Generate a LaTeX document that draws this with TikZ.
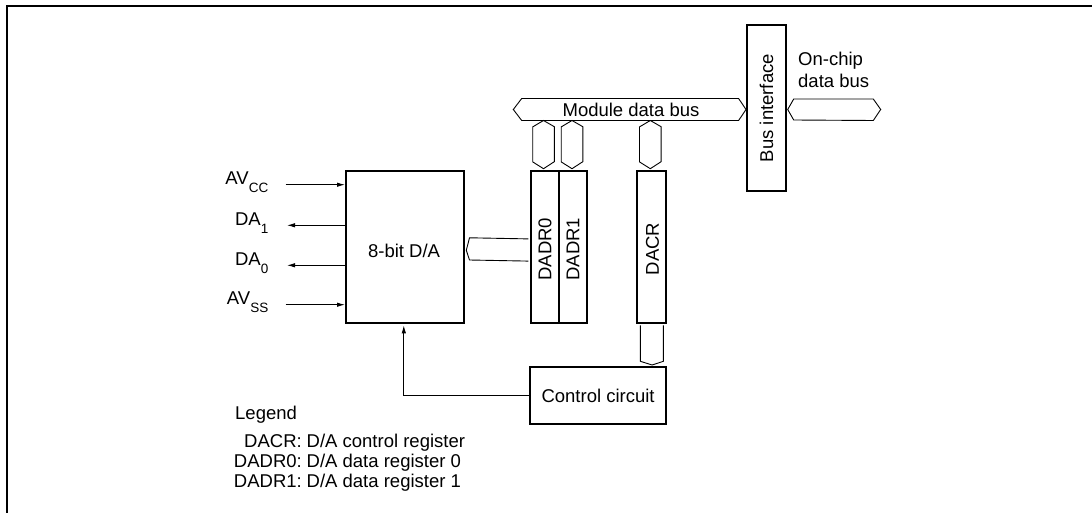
\documentclass[tikz,border=0pt]{standalone}
\usepackage{fontspec}
\setmainfont{Liberation Sans}
\usetikzlibrary{arrows.meta,calc}
\newcommand{\lsub}[1]{\raisebox{-0.42em}{\fontsize{13.5}{14}\selectfont #1}}
\begin{document}
\begin{tikzpicture}[x=1pt,y=-1pt,
  font=\fontsize{18.5}{22}\selectfont,
  blk/.style={draw, line width=2.2pt, inner sep=0pt, anchor=north west},
  busline/.style={line width=0.9pt, line join=miter},
  sig/.style={line width=0.9pt, -{Latex[length=8pt,width=4.5pt]}},
  txt/.style={inner sep=0pt}]
\useasboundingbox (0,0) rectangle (1092,513);
% frame
\draw[line width=2pt] (6.7,513) -- (6.7,6) -- (1092,6);

% blocks
\node[blk, minimum width=118pt, minimum height=152pt] (da) at (345,170) {};
\node[txt] (datxt) at ($(da.center)+(-1,4)$) {8-bit D/A};
\node[blk, minimum width=28pt, minimum height=152pt] (dadr0) at (529.5,170) {};
\node[blk, minimum width=28pt, minimum height=152pt] (dadr1) at (557.5,170) {};
\node[blk, minimum width=29pt, minimum height=152pt] (dacr) at (636,170) {};
\node[txt, rotate=90] (dadr0t) at ($(dadr0.center)+(0.5,2)$) {DADR0};
\node[txt, rotate=90] (dadr1t) at ($(dadr1.center)+(0.5,2)$) {DADR1};
\node[txt, rotate=90] (dacrt) at ($(dacr.center)+(1,2)$) {DACR};
\node[blk, minimum width=39pt, minimum height=166pt] (bi) at (746,24) {};
\node[txt, rotate=90] (bit) at (bi.center) {Bus interface};
\node[blk, minimum width=136pt, minimum height=57pt] (ctrl) at (529,366) {};
\node[txt] (ctrlt) at (ctrl.center) {Control circuit};

% module data bus
\coordinate (mbL) at (513.3,109.5);
\coordinate (mbR) at (bi.west |- mbL);
\draw[busline] (mbL) -- ++(8.4,-11) -- ($(mbR)+(-7.4,-11)$) -- (mbR)
   -- ($(mbR)+(-7.4,11)$) -- ($(mbL)+(8.4,11)$) -- cycle;
\node[txt] (mbt) at (631,109.5) {Module data bus};

% on-chip data bus
\coordinate (obL) at ($(bi.east |- mbL)+(0.5,0)$);
\draw[busline] (obL) -- ++(6,-10.5) -- (873.3,99) -- (880.7,109.5) -- (873.3,120.5) -- ($(obL)+(6,10.5)$) -- cycle;
\node[txt, anchor=base west] (oc1) at (798,65.5) {On-chip};
\node[txt, anchor=base west] (oc2) at (798,88) {data bus};

% vertical stubs from module bus
\foreach \xc/\nm in {543.5/dadr0, 572/dadr1, 650.3/dacr}{
  \draw[busline] (\xc,120.5) -- ++(10.8,6.2) -- ++(0,35) -- (\xc,168.7)
     -- ++(-10.8,-6.8) -- ++(0,-35) -- cycle;
}

% DACR to control circuit
\draw[busline] ($(dacr.south)+(-11.2,1.1)$) -- ++(0,36) -- ($(ctrl.north -| dacr.south)+(0.5,-1)$)
   -- ($(dacr.south)+(11.8,37.1)$) -- ($(dacr.south)+(11.8,1.1)$);

% D/A data bus to DADR0
\draw[busline] ($(dadr0.west)+(-1.1,-8.2)$) -- (469.5,237.8) -- ($(da.east)+(1.1,3.2)$)
   -- (469.5,260) -- ($(dadr0.west)+(-1.1,14)$);

% analog signals
\coordinate (avcc) at (285.7,184.7);
\coordinate (da1) at (287,225.3);
\coordinate (da0) at (287,265.3);
\coordinate (avss) at (285.7,304.7);
\draw[sig] (avcc) -- (avcc -| da.west);
\draw[sig] (da1 -| da.west) -- (da1);
\draw[sig] (da0 -| da.west) -- (da0);
\draw[sig] (avss) -- (avss -| da.west);
\node[txt, anchor=base east] (avccl) at (268.5,184.7) {AV\lsub{CC}};
\node[txt, anchor=base east] (da1l) at (268.5,225.3) {DA\lsub{1}};
\node[txt, anchor=base east] (da0l) at (268.5,265.3) {DA\lsub{0}};
\node[txt, anchor=base east] (avssl) at (268.5,304.7) {AV\lsub{SS}};

% control to D/A
\draw[sig] (ctrl.west) -| ($(da.south)+(-1.3,1.2)$);

% legend
\node[txt, anchor=base west] (leg) at (235,419) {Legend};
\node[txt, anchor=base east] (l1a) at (302,447) {DACR:};
\node[txt, anchor=base west] (l1b) at (306.5,447) {D/A control register};
\node[txt, anchor=base east] (l2a) at (302,467) {DADR0:};
\node[txt, anchor=base west] (l2b) at (306.5,467) {D/A data register 0};
\node[txt, anchor=base east] (l3a) at (302,487) {DADR1:};
\node[txt, anchor=base west] (l3b) at (306.5,487) {D/A data register 1};
\end{tikzpicture}
\end{document}
